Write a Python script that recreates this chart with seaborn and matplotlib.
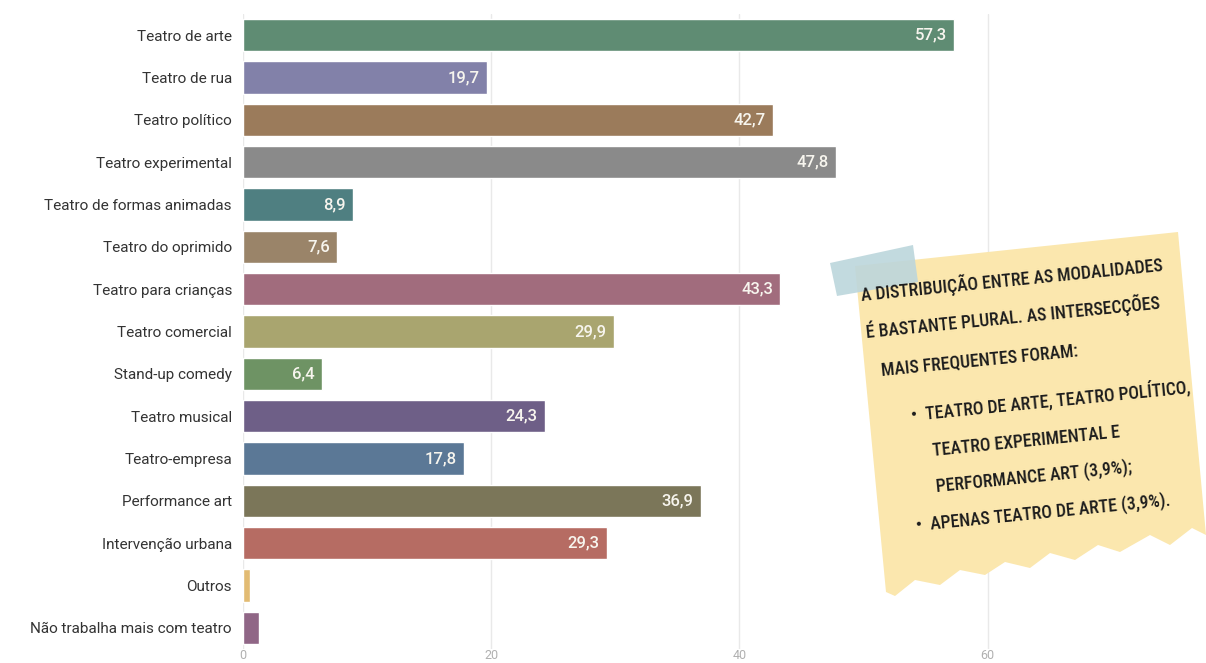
import matplotlib
matplotlib.use("Agg")
import matplotlib.pyplot as plt
from matplotlib import font_manager
from matplotlib.patches import Polygon
import seaborn as sns
import pandas as pd

categories = [
    "Teatro de arte", "Teatro de rua", "Teatro político", "Teatro experimental",
    "Teatro de formas animadas", "Teatro do oprimido", "Teatro para crianças",
    "Teatro comercial", "Stand-up comedy", "Teatro musical", "Teatro-empresa",
    "Performance art", "Intervenção urbana", "Outros", "Não trabalha mais com teatro",
]
values = [57.3, 19.7, 42.7, 47.8, 8.9, 7.6, 43.3, 29.9, 6.4, 24.3, 17.8, 36.9, 29.3, 0.6, 1.3]
colors = [
    "#5f8c73", "#8281a9", "#9b7b5b", "#8a8a8a", "#4f7f81", "#9a8469",
    "#a16c7d", "#a9a56f", "#6e9364", "#6e5f87", "#5b7896", "#7b7659",
    "#b66c63", "#e2bb73", "#906686",
]
x_ticks = [0, 20, 40, 60]

note_lines = [
    "A DISTRIBUIÇÃO ENTRE AS MODALIDADES",
    "É BASTANTE PLURAL. AS INTERSECÇÕES",
    "MAIS FREQUENTES FORAM:",
    "•  TEATRO DE ARTE, TEATRO POLÍTICO,",
    "TEATRO EXPERIMENTAL E",
    "PERFORMANCE ART (3,9%);",
    "•  APENAS TEATRO DE ARTE (3,9%).",
]

df = pd.DataFrame({"categoria": categories, "pct": values})

sns.set_theme(style="white")
plt.rcParams["font.family"] = ["Roboto", "DejaVu Sans"]

# pick the narrowest face available for the note
installed = {f.name for f in font_manager.fontManager.ttflist}
note_font = "Roboto"
for cand in ["Liberation Sans Narrow", "Roboto Condensed", "DejaVu Sans Condensed",
             "Open Sans Condensed", "Noto Sans Condensed"]:
    if cand in installed:
        note_font = cand
        break

W, H = 1206, 663
fig = plt.figure(figsize=(W / 100, H / 100), dpi=100)
ax = fig.add_axes([243 / W, 1 - 649 / H, 1 - 243 / W, (649 - 14) / H])

sns.barplot(
    data=df, y="categoria", x="pct", hue="categoria",
    palette=dict(zip(categories, colors)), legend=False,
    orient="h", width=0.76, saturation=1, ax=ax,
)

ax.set_xlim(0, 77.6)
ax.set_xticks(x_ticks)
ax.set_xticklabels([str(t) for t in x_ticks])
ax.set_xlabel("")
ax.set_ylabel("")
for s in ax.spines.values():
    s.set_visible(False)
ax.grid(axis="x", color="#e9e9e9", linewidth=1)
ax.set_axisbelow(True)
ax.tick_params(axis="x", length=0, pad=0, labelsize=9, labelcolor="#b0b0b0")
ax.tick_params(axis="y", length=0, pad=8, labelsize=11, labelcolor="#333333")

for i, v in enumerate(values):
    if v >= 5:
        ax.text(v - 0.6, i, f"{v:.1f}".replace(".", ","), ha="right", va="center",
                color="#f7f5ee", fontsize=12, fontweight="medium")

def to_fig(pts):
    return [(x / W, 1 - y / H) for x, y in pts]

# sticky note with torn bottom edge
note = [
    (855, 266), (1178, 232), (1206, 535), (1192, 528), (1170, 545), (1150, 535),
    (1120, 552), (1098, 545), (1075, 560), (1050, 553), (1030, 568), (1005, 562),
    (985, 575), (960, 570), (940, 585), (915, 580), (895, 596), (886, 592),
]
fig.patches.append(Polygon(to_fig(note), closed=True, transform=fig.transFigure,
                           facecolor="#fbe7ae", edgecolor="none", zorder=5))
tape = [(830, 263), (913, 245), (918, 282), (837, 296)]
fig.patches.append(Polygon(to_fig(tape), closed=True, transform=fig.transFigure,
                           facecolor="#bcd6dc", edgecolor="none", alpha=0.9, zorder=6))

starts = [(862, 301), (867, 338), (882, 376), (912, 421), (933, 456), (937, 492), (917, 531)]
texts = []
for (x0, y0), line in zip(starts, note_lines):
    t = fig.text(x0 / W, 1 - y0 / H, line, rotation=0, rotation_mode="anchor",
                 ha="left", va="baseline", fontsize=14, color="#1c1c1c",
                 family=[note_font, "DejaVu Sans"], fontweight="medium", zorder=7)
    texts.append(t)

# size the note text so the first line spans the note width
renderer = fig.canvas.get_renderer()
w0 = texts[0].get_window_extent(renderer).width
fs = 14 * 306 / w0
for t in texts:
    t.set_fontsize(fs)
    t.set_rotation(5.7)

fig.savefig("out.png", dpi=100)
